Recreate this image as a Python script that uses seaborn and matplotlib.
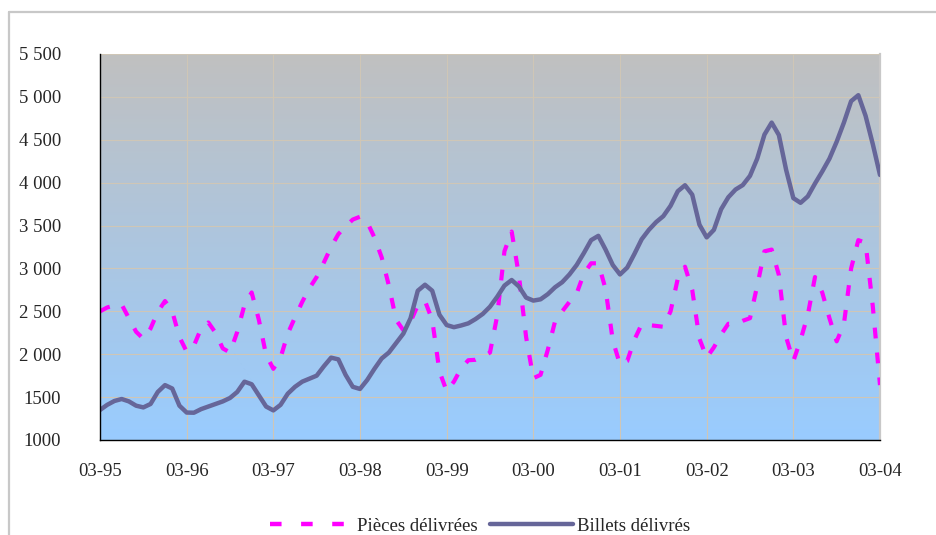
import numpy as np
import pandas as pd
import matplotlib
matplotlib.use("Agg")
import matplotlib.pyplot as plt
import seaborn as sns
from matplotlib.colors import LinearSegmentedColormap
from matplotlib.lines import Line2D

# Monthly series, March 1995 -> March 2004 (millions)
pieces = [
    2500, 2545, 2570, 2580, 2420, 2262, 2180, 2300, 2495, 2620, 2500, 2200,
    2030, 2100, 2300, 2370, 2250, 2068, 2020, 2260, 2573, 2720, 2400, 1990,
    1830, 1960, 2240, 2430, 2610, 2770, 2900, 3070, 3250, 3400, 3490, 3570,
    3603, 3540, 3360, 3130, 2800, 2400, 2280, 2380, 2570, 2620, 2400, 1800,
    1570, 1680, 1835, 1930, 1935, 1970, 2020, 2450, 3200, 3430, 2920, 2200,
    1720, 1760, 2050, 2380, 2500, 2610, 2709, 2940, 3060, 3060, 2760, 2160,
    1880, 1920, 2170, 2350, 2340, 2330, 2320, 2500, 2880, 3020, 2750, 2180,
    1960, 2080, 2230, 2355, 2350, 2390, 2420, 2800, 3200, 3220, 2923, 2200,
    1920, 2166, 2457, 2900, 2720, 2420, 2150, 2350, 3000, 3330, 3300, 2560,
    1640,
]
billets = [
    1350, 1410, 1455, 1478, 1450, 1400, 1380, 1420, 1560, 1640, 1600, 1400,
    1320, 1318, 1360, 1390, 1420, 1450, 1490, 1560, 1680, 1650, 1520, 1390,
    1345, 1410, 1540, 1620, 1680, 1715, 1750, 1860, 1960, 1940, 1760, 1620,
    1595, 1700, 1830, 1950, 2020, 2130, 2240, 2420, 2740, 2810, 2740, 2460,
    2340, 2315, 2335, 2360, 2410, 2470, 2554, 2670, 2800, 2865, 2790, 2660,
    2625, 2640, 2700, 2780, 2840, 2930, 3040, 3180, 3330, 3380, 3220, 3040,
    2930, 3010, 3170, 3340, 3450, 3540, 3610, 3730, 3900, 3970, 3860, 3510,
    3362, 3450, 3690, 3830, 3920, 3972, 4080, 4280, 4560, 4700, 4555, 4150,
    3820, 3765, 3840, 3990, 4130, 4280, 4477, 4700, 4950, 5020, 4780, 4450,
    4090,
]
x_tick_labels = ["03-95", "03-96", "03-97", "03-98", "03-99",
                 "03-00", "03-01", "03-02", "03-03", "03-04"]
y_ticks = [1000, 1500, 2000, 2500, 3000, 3500, 4000, 4500, 5000, 5500]
y_tick_labels = ["1000", "1500", "2 000", "2 500", "3 000",
                 "3 500", "4 000", "4 500", "5 000", "5 500"]

months = np.arange(len(billets))
df = pd.DataFrame({"mois": months, "pieces": pieces, "billets": billets})

sns.set_style("white")
plt.rcParams["font.family"] = ["Liberation Serif", "DejaVu Serif"]

fig = plt.figure(figsize=(9.36, 5.35), dpi=100)
ax = fig.add_axes([100 / 936, 1 - 440 / 535, 780 / 936, 386 / 535])

# gradient plot-area fill: grey at the top fading to light blue
grad = np.linspace(0, 1, 256).reshape(-1, 1)
cmap = LinearSegmentedColormap.from_list("fond", ["#c0c0c0", "#99ccff"])
ax.imshow(grad, aspect="auto", cmap=cmap, extent=[0, 1, 0, 1],
          transform=ax.transAxes, zorder=0, interpolation="bilinear")

sns.lineplot(data=df, x="mois", y="pieces", ax=ax, color="#ff00ff",
             linewidth=3.0, label="Pièces délivrées", zorder=3)
sns.lineplot(data=df, x="mois", y="billets", ax=ax, color="#666699",
             linewidth=3.2, label="Billets délivrés", zorder=4)
line_p, line_b = ax.lines[-2], ax.lines[-1]
line_p.set_dashes((2.6, 3.4))
line_p.set_solid_joinstyle("round")
line_b.set_solid_joinstyle("round")
line_b.set_solid_capstyle("round")

ax.set_xlim(0, 108)
ax.set_ylim(1000, 5500)
ax.set_xticks(np.arange(0, 109, 12))
ax.set_xticklabels(x_tick_labels)
ax.set_xticks(np.arange(6, 108, 12), minor=True)
ax.set_yticks(y_ticks)
ax.set_yticklabels(y_tick_labels)
ax.set_xlabel("")
ax.set_ylabel("")

ax.grid(True, which="major", color="#cfc6b6", linewidth=0.8, zorder=1)
ax.set_axisbelow(False)
for gl in ax.get_xgridlines() + ax.get_ygridlines():
    gl.set_zorder(1)

ax.tick_params(axis="y", which="major", direction="inout", length=8,
               width=1, color="black", labelsize=13.5, pad=24)
ax.tick_params(axis="x", which="major", direction="inout", length=9,
               width=1, color="black", labelsize=13.5, pad=12)
ax.tick_params(axis="x", which="minor", direction="inout", length=6,
               width=1, color="black")

for side in ("left", "bottom"):
    ax.spines[side].set_color("black")
    ax.spines[side].set_linewidth(1.0)
    ax.spines[side].set_zorder(5)
ax.spines["top"].set_visible(False)
ax.spines["right"].set_color("#c8c8c8")
ax.spines["right"].set_linewidth(1.6)

ax.get_legend().remove()
handles = [
    Line2D([], [], color="#ff00ff", linewidth=3.2, dashes=(2.6, 4.4)),
    Line2D([], [], color="#666699", linewidth=3.2),
]
fig.legend(handles, ["Pièces délivrées", "Billets délivrés"],
           loc="center", bbox_to_anchor=(480 / 936, 1 - 526 / 535),
           ncol=2, frameon=False, fontsize=13.5, handlelength=4.4,
           handletextpad=0.2, columnspacing=0.7)

# outer chart frame (left and top edges)
frame_kw = dict(transform=fig.transFigure, color="#c8c8c8", linewidth=1.6)
fig.add_artist(Line2D([9 / 936, 9 / 936], [0, 1 - 12 / 535], **frame_kw))
fig.add_artist(Line2D([9 / 936, 1], [1 - 12 / 535, 1 - 12 / 535], **frame_kw))

fig.savefig("out.png", dpi=100, facecolor="white")
